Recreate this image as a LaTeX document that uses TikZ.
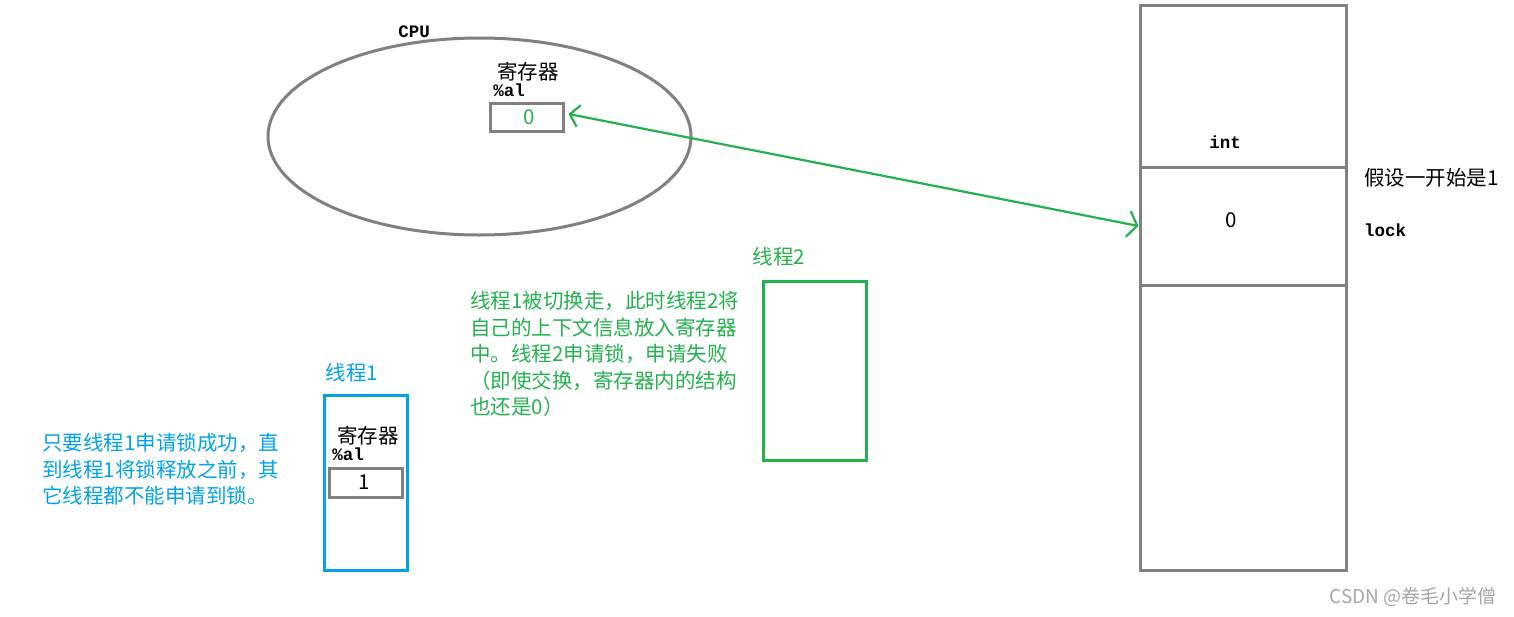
\documentclass[tikz,border=0pt]{standalone}
\usepackage{fontspec}
\usetikzlibrary{shapes.geometric,arrows.meta}
\newfontfamily\cjk{Noto Sans CJK SC}
\newfontfamily\lat{Liberation Mono}
\definecolor{pgray}{RGB}{128,128,128}
\definecolor{pgreen}{RGB}{34,177,76}
\definecolor{pblue}{RGB}{0,162,232}
\definecolor{wgray}{RGB}{165,165,165}
\tikzset{
  box/.style={draw=pgray,line width=3pt,inner sep=0pt,rectangle},
  cjktxt/.style={inner sep=0pt,font=\cjk\fontsize{20.5}{26.5}\selectfont},
  lattxt/.style={inner sep=0pt,font=\lat\bfseries\fontsize{17.5}{20}\selectfont},
  para/.style={cjktxt,align=left,anchor=west},
}
\begin{document}
\begin{tikzpicture}[x=1pt,y=-1pt]
\useasboundingbox (0,0) rectangle (1514,616);
% CPU
\node[ellipse,draw=pgray,line width=3pt,inner sep=0pt,minimum width=423pt,minimum height=197pt] (cpu) at (479.5,136.5) {};
\node[lattxt] (cputxt) at (414,32) {CPU};
\node[cjktxt] (reg0lbl) at (528,72) {寄存器};
\node[lattxt] (al0) at (509,90) {\%al};
\node[box,minimum width=73pt,minimum height=28pt] (reg0) at (526.5,117) {};
\node[cjktxt,text=pgreen] (reg0val) at (529,117) {0};
% memory
\node[box,minimum width=206pt,minimum height=162pt] (memtop) at (1243,86) {};
\node[box,minimum width=206pt,minimum height=118pt] (lockcell) at (1243,226) {};
\node[box,minimum width=206pt,minimum height=285pt] (membot) at (1243,427.5) {};
\node[lattxt] (inttxt) at (1225,142) {int};
\node[cjktxt] (lockval) at (1231,220) {0};
\node[cjktxt,anchor=west] (assume) at (1364,178) {假设一开始是1};
\node[lattxt,anchor=west] (locktxt) at (1364,230) {lock};
% arrow
\draw[pgreen,line width=2.2pt,{Straight Barb[length=9pt,width=22pt]}-{Straight Barb[length=9pt,width=26pt]}] (reg0.east) ++(4,-3) coordinate (aL) (aL) -- (lockcell.west);
% thread 2
\node[cjktxt,text=pgreen] (t2lbl) at (779,257) {线程2};
\node[draw=pgreen,line width=3pt,inner sep=0pt,minimum width=103pt,minimum height=179pt] (t2) at (814.5,370.5) {};
\node[para,text=pgreen] (t2note) at (470,354) {线程1被切换走，此时线程2将\\自己的上下文信息放入寄存器\\中。线程2申请锁，申请失败\\（即使交换，寄存器内的结构\\也还是0）};
% thread 1
\node[cjktxt,text=pblue] (t1lbl) at (352,373) {线程1};
\node[draw=pblue,line width=3pt,inner sep=0pt,minimum width=83pt,minimum height=175pt] (t1) at (365.5,482.5) {};
\node[cjktxt] (reg1lbl) at (368,436) {寄存器};
\node[lattxt] (al1) at (348,454) {\%al};
\node[box,minimum width=73pt,minimum height=29pt] (reg1) at (365.5,482.5) {};
\node[cjktxt] (reg1val) at (364,482) {1};
\node[para,text=pblue] (t1note) at (42,469.5) {只要线程1申请锁成功，直\\到线程1将锁释放之前，其\\它线程都不能申请到锁。};
% watermark
\node[inner sep=0pt,text=wgray,font=\cjk\fontsize{19}{22}\selectfont] (wm) at (1413,597) {CSDN @卷毛小学僧};
\end{tikzpicture}
\end{document}
